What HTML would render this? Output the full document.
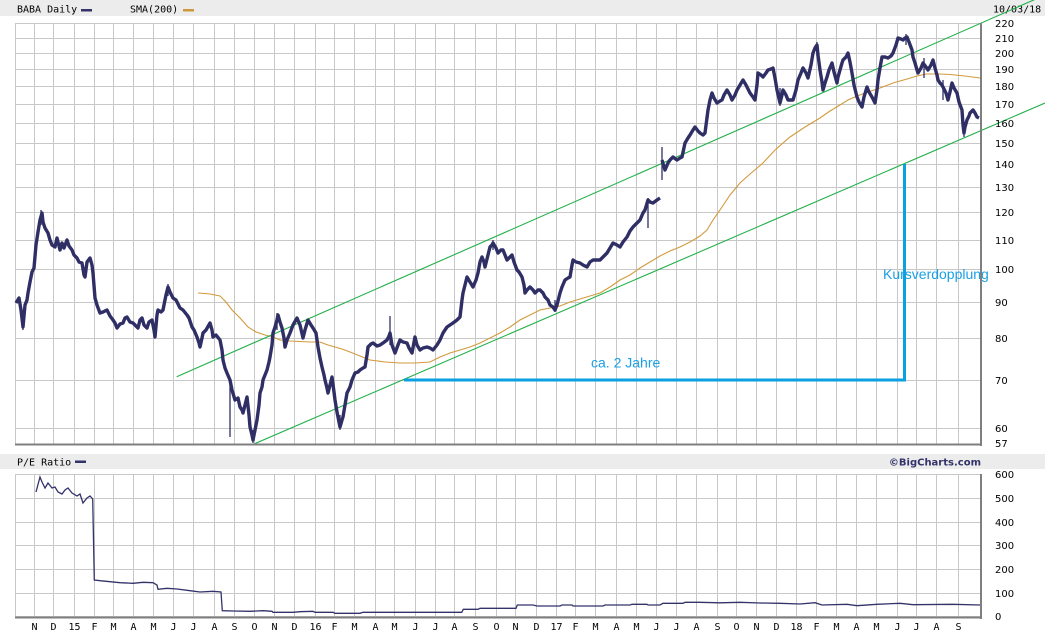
<!DOCTYPE html>
<html><head><meta charset="utf-8"><style>
html,body{margin:0;padding:0;background:#fff;}
svg{display:block;}
.m{font-family:"DejaVu Sans Mono","Liberation Mono",monospace;font-size:10px;fill:#000;}
.y{font-family:"DejaVu Sans","Liberation Sans",sans-serif;font-size:10px;fill:#000;}
</style></head><body>
<svg width="1045" height="635" viewBox="0 0 1045 635" xmlns="http://www.w3.org/2000/svg">
<defs>
<polyline id="p1" points="16,303 19,298 21,310 23,327 25,305 27,300 28,293 30,282 32,272 34,268 36,245 38,232 40,220 42,213 43,222 45,228 48,233 50,240 52,245 55,247 57,238 60,250 62,243 64,248 67,240 69,246 72,250 74,255 77,258 79,262 82,263 84,275 85,277 87,262 90,258 92,265 93,273 95,298 97,305 100,313 103,312 107,310 110,316 113,320 115,323 117,328 120,324 123,323 125,318 127,317 130,322 133,323 136,326 138,328 140,320 142,318 144,325 147,328 149,322 152,320 154,330 155,337 157,315 158,310 161,312 163,310 166,295 168,287 170,292 173,298 176,300 180,308 183,310 187,315 189,318 192,327 194,330 197,337 199,343 200,347 202,338 203,333 206,330 210,323 212,330 213,337 216,335 220,340 222,350 223,360 225,368 227,373 230,380 232,390 235,400 238,398 240,407 242,410 243,413 245,405 247,397 249,415 250,427 252,435 253,440 255,430 257,420 259,405 260,393 262,387 263,380 265,375 267,370 269,362 270,357 272,345 273,333 275,327 277,320 278,315 280,322 282,328 284,338 285,347 287,340 290,333 293,325 297,318 300,325 303,338 305,330 308,320 311,325 313,328 316,333 318,347 320,358 322,367 324,375 325,380 327,388 328,393 330,385 332,377 334,392 335,400 337,412 340,427 342,420 343,417 345,405 347,393 350,387 352,380 355,373 358,372 360,370 363,368 365,367 367,355 368,347 371,344 373,343 377,346 380,345 383,343 387,340 389,336 390,333 392,345 395,353 398,345 400,340 403,342 407,343 409,348 412,353 415,337 417,345 420,350 423,348 427,347 430,348 433,350 437,345 440,340 443,333 447,327 450,325 453,323 457,320 460,317 462,300 463,293 465,285 467,277 470,282 473,287 476,280 478,273 480,262 482,257 484,262 485,267 488,255 490,247 492,245 493,243 496,248 498,253 501,250 503,250 505,255 507,260 510,257 512,255 514,262 517,270 519,272 522,277 524,285 525,293 527,290 530,287 533,290 535,293 538,290 540,290 543,293 545,297 548,300 550,305 553,307 555,310 557,305 560,293 562,287 565,280 568,278 570,277 572,265 573,260 576,262 580,263 583,265 587,267 590,262 593,260 597,260 600,260 603,257 607,253 610,248 613,243 617,245 620,247 623,242 627,237 630,231 633,227 637,223 640,220 643,213 645,210 648,200 650,202 653,203 657,200 660,198"/>
<polyline id="p2" points="662,160 665,170 668,163 670,160 673,157 677,160 680,158 682,157 685,143 688,138 690,135 693,130 695,127 698,131 700,133 703,135 705,133 708,110 710,100 712,93 714,98 717,103 720,101 722,100 724,95 727,90 730,95 732,100 735,95 737,90 740,85 743,80 746,85 750,93 753,97 755,100 757,85 758,73 761,75 763,77 766,73 768,70 771,69 773,68 775,78 777,90 780,103 782,95 783,90 786,95 788,100 791,100 793,100 796,90 798,80 801,73 803,68 806,73 808,78 811,65 813,53 815,48 817,45 818,55 820,70 822,82 823,90 825,83 827,77 829,70 832,63 834,72 837,83 838,77 840,70 842,63 843,60 846,57 848,53 850,62 852,73 854,85 857,97 859,102 862,107 864,97 867,87 869,92 872,97 874,101 875,103 877,90 878,80 880,68 882,57 885,57 888,58 891,56 893,53 896,45 898,38 901,39 903,40 905,38 907,37 909,42 912,50 913,57 915,63 917,70 918,73 921,68 923,63 926,67 928,70 931,65 933,60 935,68 937,75 938,80 940,83 942,85 943,87 946,93 948,100 950,92 952,83 954,88 957,93 959,102 962,110 963,125 964,133 965,127 967,120 969,116 970,113 972,111 973,110 975,113 977,117 979,118"/>
</defs>
<rect x="0" y="0" width="1045" height="635" fill="#fff"/>
<!-- top strip -->
<rect x="0" y="0" width="1045" height="16" fill="#ececec"/>
<text class="m" x="17" y="12.5">BABA Daily</text>
<rect x="81" y="9" width="11" height="2.5" fill="#33336a"/>
<text class="m" x="130" y="12.5">SMA(200)</text>
<rect x="183" y="9" width="11" height="2.5" fill="#cc9a3a"/>
<text class="m" x="993" y="12.5">10/03/18</text>
<!-- lower strip -->
<rect x="0" y="454" width="1045" height="15" fill="#ececec"/>
<text class="m" x="17" y="465.5">P/E Ratio</text>
<rect x="75" y="460.5" width="11" height="2.5" fill="#33336a"/>
<text x="981" y="465.5" text-anchor="end" style="font-family:'DejaVu Sans','Liberation Sans',sans-serif;font-weight:bold;font-size:10px;fill:#33336a">©BigCharts.com</text>

<!-- main grid -->
<g stroke="#c8c8c8" stroke-width="1" fill="none">
<rect x="15.5" y="23.5" width="965" height="421"/>
<path d="M15.5 38.5H981M15.5 53.5H981M15.5 69.5H981M15.5 86.5H981M15.5 104.5H981M15.5 123.5H981M15.5 143.5H981M15.5 164.5H981M15.5 187.5H981M15.5 212.5H981M15.5 240.5H981M15.5 269.5H981M15.5 302.5H981M15.5 338.5H981M15.5 380.5H981M15.5 428.5H981"/>
<path d="M34.5 23V444M53.5 23V444M74.5 23V444M94.5 23V444M113.5 23V444M133.5 23V444M153.5 23V444M173.5 23V444M193.5 23V444M214.5 23V444M234.5 23V444M254.5 23V444M274.5 23V444M294.5 23V444M315.5 23V444M334.5 23V444M354.5 23V444M375.5 23V444M394.5 23V444M415.5 23V444M435.5 23V444M454.5 23V444M475.5 23V444M496.5 23V444M515.5 23V444M536.5 23V444M556.5 23V444M575.5 23V444M595.5 23V444M616.5 23V444M636.5 23V444M656.5 23V444M676.5 23V444M696.5 23V444M717.5 23V444M736.5 23V444M756.5 23V444M776.5 23V444M796.5 23V444M816.5 23V444M836.5 23V444M856.5 23V444M876.5 23V444M897.5 23V444M916.5 23V444M936.5 23V444M958.5 23V444"/>
</g>
<!-- lower grid -->
<g stroke="#c8c8c8" stroke-width="1" fill="none">
<rect x="15.5" y="474.5" width="965" height="142"/>
<path d="M15.5 498.5H981M15.5 522.5H981M15.5 545.5H981M15.5 569.5H981M15.5 593.5H981"/>
<path d="M34.5 474V617M53.5 474V617M74.5 474V617M94.5 474V617M113.5 474V617M133.5 474V617M153.5 474V617M173.5 474V617M193.5 474V617M214.5 474V617M234.5 474V617M254.5 474V617M274.5 474V617M294.5 474V617M315.5 474V617M334.5 474V617M354.5 474V617M375.5 474V617M394.5 474V617M415.5 474V617M435.5 474V617M454.5 474V617M475.5 474V617M496.5 474V617M515.5 474V617M536.5 474V617M556.5 474V617M575.5 474V617M595.5 474V617M616.5 474V617M636.5 474V617M656.5 474V617M676.5 474V617M696.5 474V617M717.5 474V617M736.5 474V617M756.5 474V617M776.5 474V617M796.5 474V617M816.5 474V617M836.5 474V617M856.5 474V617M876.5 474V617M897.5 474V617M916.5 474V617M936.5 474V617M958.5 474V617"/>
</g>

<!-- SMA -->
<polyline fill="none" stroke="#d29a3c" stroke-width="1.1" points="198,293 210,294 220,296 226,302 232,310 240,318 248,327 256,332 265,335 273,337 280,340 290,341 300,341.5 310,342 320,342 328,345 335,347 342,349 350,352 360,356 370,360 385,362 400,363 415,363 430,362 440,357 450,353 460,350 470,347 480,343 490,338 500,333 510,327 520,320 530,315 540,310 550,308 560,306 570,302 580,299 590,296 600,293 610,287 620,280 630,275 640,268 650,262 660,256 670,251 680,247 690,242 700,236 707,230 713,220 720,210 730,195 740,183 750,174 763,163 775,150 790,137 805,127 820,118 830,111 840,105 848,100 857,96 868,92 880,88 893,83 907,79 917,76 926,74 940,74 950,74.5 965,76 980,78"/>

<!-- green channel -->
<g stroke="#22b04a" stroke-width="1.1" fill="none">
<line x1="176.7" y1="376.7" x2="1045" y2="-5"/>
<line x1="251.7" y1="445" x2="1045" y2="103"/>
</g>

<!-- price -->
<g fill="none" stroke="#2f2f66" stroke-linejoin="round">
<use href="#p1" stroke-width="3.4"/>
<use href="#p2" stroke-width="3.4"/>
<path stroke-width="1.3" d="M230 378V437M390 316V345M648 198V228M662 147V180M23 315V330M340 415V430M253 430V443M555 300V312M41 210V225M168 284V296M277 313V330M493 240V250M817 42V56M906 34V45M964 123V137M924 58V78M943 80V100M780 88V106M708 106V118"/>
</g>

<!-- blue annotation -->
<g stroke="#0aa0e2" stroke-width="3" fill="none">
<line x1="404" y1="380" x2="906" y2="380"/>
<line x1="904.5" y1="164" x2="904.5" y2="381.5"/>
</g>
<text x="591" y="367.5" style="font-family:'Liberation Sans',sans-serif;font-size:14px;fill:#1aa0e6">ca. 2 Jahre</text>
<text x="883" y="279" style="font-family:'Liberation Sans',sans-serif;font-size:14px;fill:#1aa0e6">Kursverdopplung</text>

<!-- PE line -->
<polyline fill="none" stroke="#33336a" stroke-width="1.3" points="36,492 40,477 42,482 45,488 48,483 52,488 55,487 58,492 62,494 65,490 68,488 72,493 77,496 80,494 83,503 87,498 90,496 92.7,499 94.3,580 100,580.7 110,581.7 120,582.7 133,583.3 143,582.3 153,582.7 157,585 158,589.3 167,588.3 177,589 190,590.7 200,592 213,591.3 221,592 222.3,610.7 233,611 250,611.3 263,610.7 272,611.3 273,612.3 293,612.3 300,611.7 313,611.3 315,612.3 333,612.3 335,613.3 360,613.3 363,612.3 461.7,612.3 463.3,609.3 478,609.3 480,608.3 516,608.3 517.3,605 533,605 537,606 560,606 562,605 572,605 573,606 603,606 605,605 630,605 632,604.3 647,604.3 648,605 660,605 663,603.3 683,603.3 685,602.3 700,602.3 720,602.8 740,602.3 760,603 780,603.3 800,604 815,602.7 822,605 847,604.3 857,605.7 877,604.3 900,603.3 913,604.7 953,604.3 980,605"/>

<!-- dark borders -->
<g fill="#7f7f7f">
<rect x="980" y="23" width="2" height="423"/>
<rect x="15" y="443.5" width="967" height="2"/>
<rect x="980" y="474" width="2" height="145"/>
<rect x="15" y="616.5" width="967" height="2"/>
</g>

<!-- y labels main -->
<g class="y">
<text x="995" y="27">220</text>
<text x="995" y="42">210</text>
<text x="995" y="57">200</text>
<text x="995" y="73">190</text>
<text x="995" y="90">180</text>
<text x="995" y="108">170</text>
<text x="995" y="127">160</text>
<text x="995" y="147">150</text>
<text x="995" y="168">140</text>
<text x="995" y="191">130</text>
<text x="995" y="216">120</text>
<text x="995" y="244">110</text>
<text x="995" y="273">100</text>
<text x="995" y="306">90</text>
<text x="995" y="342">80</text>
<text x="995" y="384">70</text>
<text x="995" y="432">60</text>
<text x="995" y="447">57</text>
</g>
<!-- y labels lower -->
<g class="y">
<text x="995" y="478">600</text>
<text x="995" y="502">500</text>
<text x="995" y="526">400</text>
<text x="995" y="549">300</text>
<text x="995" y="573">200</text>
<text x="995" y="597">100</text>
<text x="995" y="620">0</text>
</g>

<!-- month labels -->
<g class="m" text-anchor="middle">
<text x="34.5" y="630">N</text><text x="53.5" y="630">D</text><text x="74.5" y="630">15</text><text x="94.5" y="630">F</text><text x="113.5" y="630">M</text><text x="133.5" y="630">A</text><text x="153.5" y="630">M</text><text x="173.5" y="630">J</text><text x="193.5" y="630">J</text><text x="214.5" y="630">A</text><text x="234.5" y="630">S</text><text x="254.5" y="630">O</text><text x="274.5" y="630">N</text><text x="294.5" y="630">D</text>
<text x="315.5" y="630">16</text><text x="334.5" y="630">F</text><text x="354.5" y="630">M</text><text x="375.5" y="630">A</text><text x="394.5" y="630">M</text><text x="415.5" y="630">J</text><text x="435.5" y="630">J</text><text x="454.5" y="630">A</text><text x="475.5" y="630">S</text><text x="496.5" y="630">O</text><text x="515.5" y="630">N</text><text x="536.5" y="630">D</text>
<text x="556.5" y="630">17</text><text x="575.5" y="630">F</text><text x="595.5" y="630">M</text><text x="616.5" y="630">A</text><text x="636.5" y="630">M</text><text x="656.5" y="630">J</text><text x="676.5" y="630">J</text><text x="696.5" y="630">A</text><text x="717.5" y="630">S</text><text x="736.5" y="630">O</text><text x="756.5" y="630">N</text><text x="776.5" y="630">D</text>
<text x="796.5" y="630">18</text><text x="816.5" y="630">F</text><text x="836.5" y="630">M</text><text x="856.5" y="630">A</text><text x="876.5" y="630">M</text><text x="897.5" y="630">J</text><text x="916.5" y="630">J</text><text x="936.5" y="630">A</text><text x="958.5" y="630">S</text>
</g>
</svg>
</body></html>
